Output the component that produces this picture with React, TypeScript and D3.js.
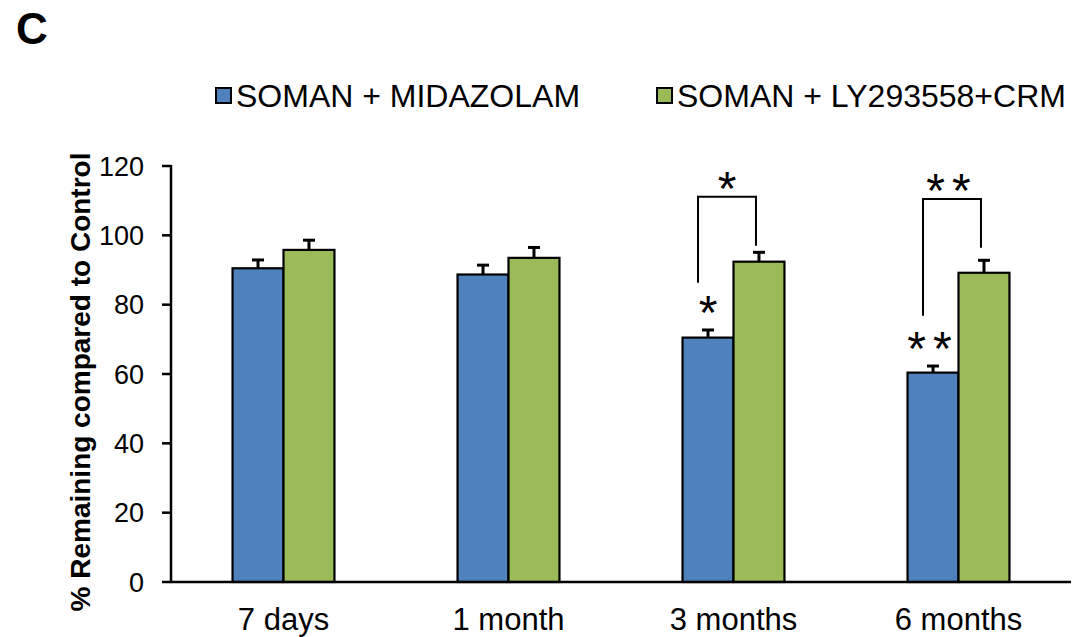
import React from "react";
import * as d3 from "d3";

const categories = ["7 days", "1 month", "3 months", "6 months"];
const seriesNames = ["SOMAN + MIDAZOLAM", "SOMAN + LY293558+CRM"];
const midazolamValues = [90.5, 88.7, 70.5, 60.4];
const midazolamErrors = [2.4, 2.7, 2.2, 1.9];
const lyValues = [95.8, 93.5, 92.4, 89.2];
const lyErrors = [2.8, 3.0, 2.7, 3.6];
const yTicks = [0, 20, 40, 60, 80, 100, 120];
const colors = ["#4F81BD", "#9BBB59"];

// significance brackets: category, left bottom, right bottom, top, label
const bracketCats = ["3 months", "6 months"];
const bracketLeftBottom = [86.3, 76.8];
const bracketRightBottom = [97.0, 96.4];
const bracketTop = [111.1, 110.5];
const bracketLabels = ["*", "**"];
// stars above blue bars
const barStarCats = ["3 months", "6 months"];
const barStarLabels = ["*", "**"];

const W = 1073;
const H = 637;
const FONT = "'Liberation Sans', Arial, sans-serif";

export default function App() {
  const x = d3.scaleBand().domain(categories).range([171, 1071]).paddingInner(0.547).paddingOuter(0.2735);
  const xi = d3.scaleBand().domain(seriesNames).range([0, x.bandwidth()]).padding(0);
  const y = d3.scaleLinear().domain([0, 120]).range([582, 166]);

  const series = [
    { name: seriesNames[0], values: midazolamValues, errors: midazolamErrors, color: colors[0] },
    { name: seriesNames[1], values: lyValues, errors: lyErrors, color: colors[1] },
  ];

  const bw = xi.bandwidth();

  return (
    <svg width={W} height={H} style={{ position: "absolute", left: 0, top: 0, background: "#fff" }} fontFamily={FONT}>
      {/* Panel label */}
      <text x={16} y={44} fontSize={44} fontWeight="bold" fill="#000">C</text>

      {/* Legend */}
      {series.map((s, i) => {
        const lx = i === 0 ? 216 : 657;
        return (
          <g key={s.name}>
            <rect x={lx} y={88} width={15} height={15} fill={s.color} stroke="#000" strokeWidth={2} />
            <text x={lx + 20} y={107} fontSize={32} fill="#000">{s.name}</text>
          </g>
        );
      })}

      {/* Y axis title */}
      <text transform={`translate(90,382) rotate(-90)`} textAnchor="middle" fontSize={28} fontWeight="bold" fill="#000">
        % Remaining compared to Control
      </text>

      {/* Y ticks */}
      {yTicks.map((t) => (
        <g key={t}>
          <line x1={162} x2={171} y1={y(t)} y2={y(t)} stroke="#000" strokeWidth={2.5} />
          <text x={144} y={y(t)} dy="0.36em" textAnchor="end" fontSize={27} fill="#000">{t}</text>
        </g>
      ))}

      {/* Bars */}
      {categories.map((c, ci) => (
        <g key={c}>
          {series.map((s) => {
            const bx = (x(c) as number) + (xi(s.name) as number);
            const v = s.values[ci];
            const e = s.errors[ci];
            const cx = bx + bw / 2;
            return (
              <g key={s.name}>
                <line x1={cx} x2={cx} y1={y(v)} y2={y(v + e)} stroke="#000" strokeWidth={3} />
                <line x1={cx - 6} x2={cx + 6} y1={y(v + e)} y2={y(v + e)} stroke="#000" strokeWidth={3} />
                <rect x={bx} y={y(v)} width={bw} height={y(0) - y(v)} fill={s.color} stroke="#000" strokeWidth={2.2} />
              </g>
            );
          })}
        </g>
      ))}

      {/* Axes lines */}
      <line x1={171} x2={171} y1={y(120) - 1} y2={y(0)} stroke="#000" strokeWidth={2.5} />
      <line x1={170} x2={1071} y1={y(0)} y2={y(0)} stroke="#000" strokeWidth={2.5} />

      {/* X labels */}
      {categories.map((c) => (
        <text key={c} x={(x(c) as number) + x.bandwidth() / 2} y={630} textAnchor="middle" fontSize={31} fill="#000">
          {c}
        </text>
      ))}

      {/* Significance brackets */}
      {bracketCats.map((c, i) => {
        const lx = (x(c) as number) + (xi(seriesNames[0]) as number) + bw / 2 - 10;
        const rx = (x(c) as number) + (xi(seriesNames[1]) as number) + bw / 2 - 3;
        const ty = y(bracketTop[i]);
        return (
          <g key={c}>
            <path
              d={`M${lx},${y(bracketLeftBottom[i])} L${lx},${ty} L${rx},${ty} L${rx},${y(bracketRightBottom[i])}`}
              fill="none"
              stroke="#000"
              strokeWidth={2}
            />
            <text x={(lx + rx) / 2} y={ty + 8} textAnchor="middle" fontSize={48} letterSpacing={bracketLabels[i].length > 1 ? 7 : 0} fill="#000">
              {bracketLabels[i]}
            </text>
          </g>
        );
      })}

      {/* Stars above blue bars */}
      {barStarCats.map((c, i) => {
        const ci = categories.indexOf(c);
        const cx = (x(c) as number) + (xi(seriesNames[0]) as number) + bw / 2;
        const top = y(midazolamValues[ci] + midazolamErrors[ci]);
        return (
          <text key={c} x={cx} y={top - 1} textAnchor="middle" fontSize={48} letterSpacing={barStarLabels[i].length > 1 ? 7 : 0} fill="#000">
            {barStarLabels[i]}
          </text>
        );
      })}
    </svg>
  );
}
